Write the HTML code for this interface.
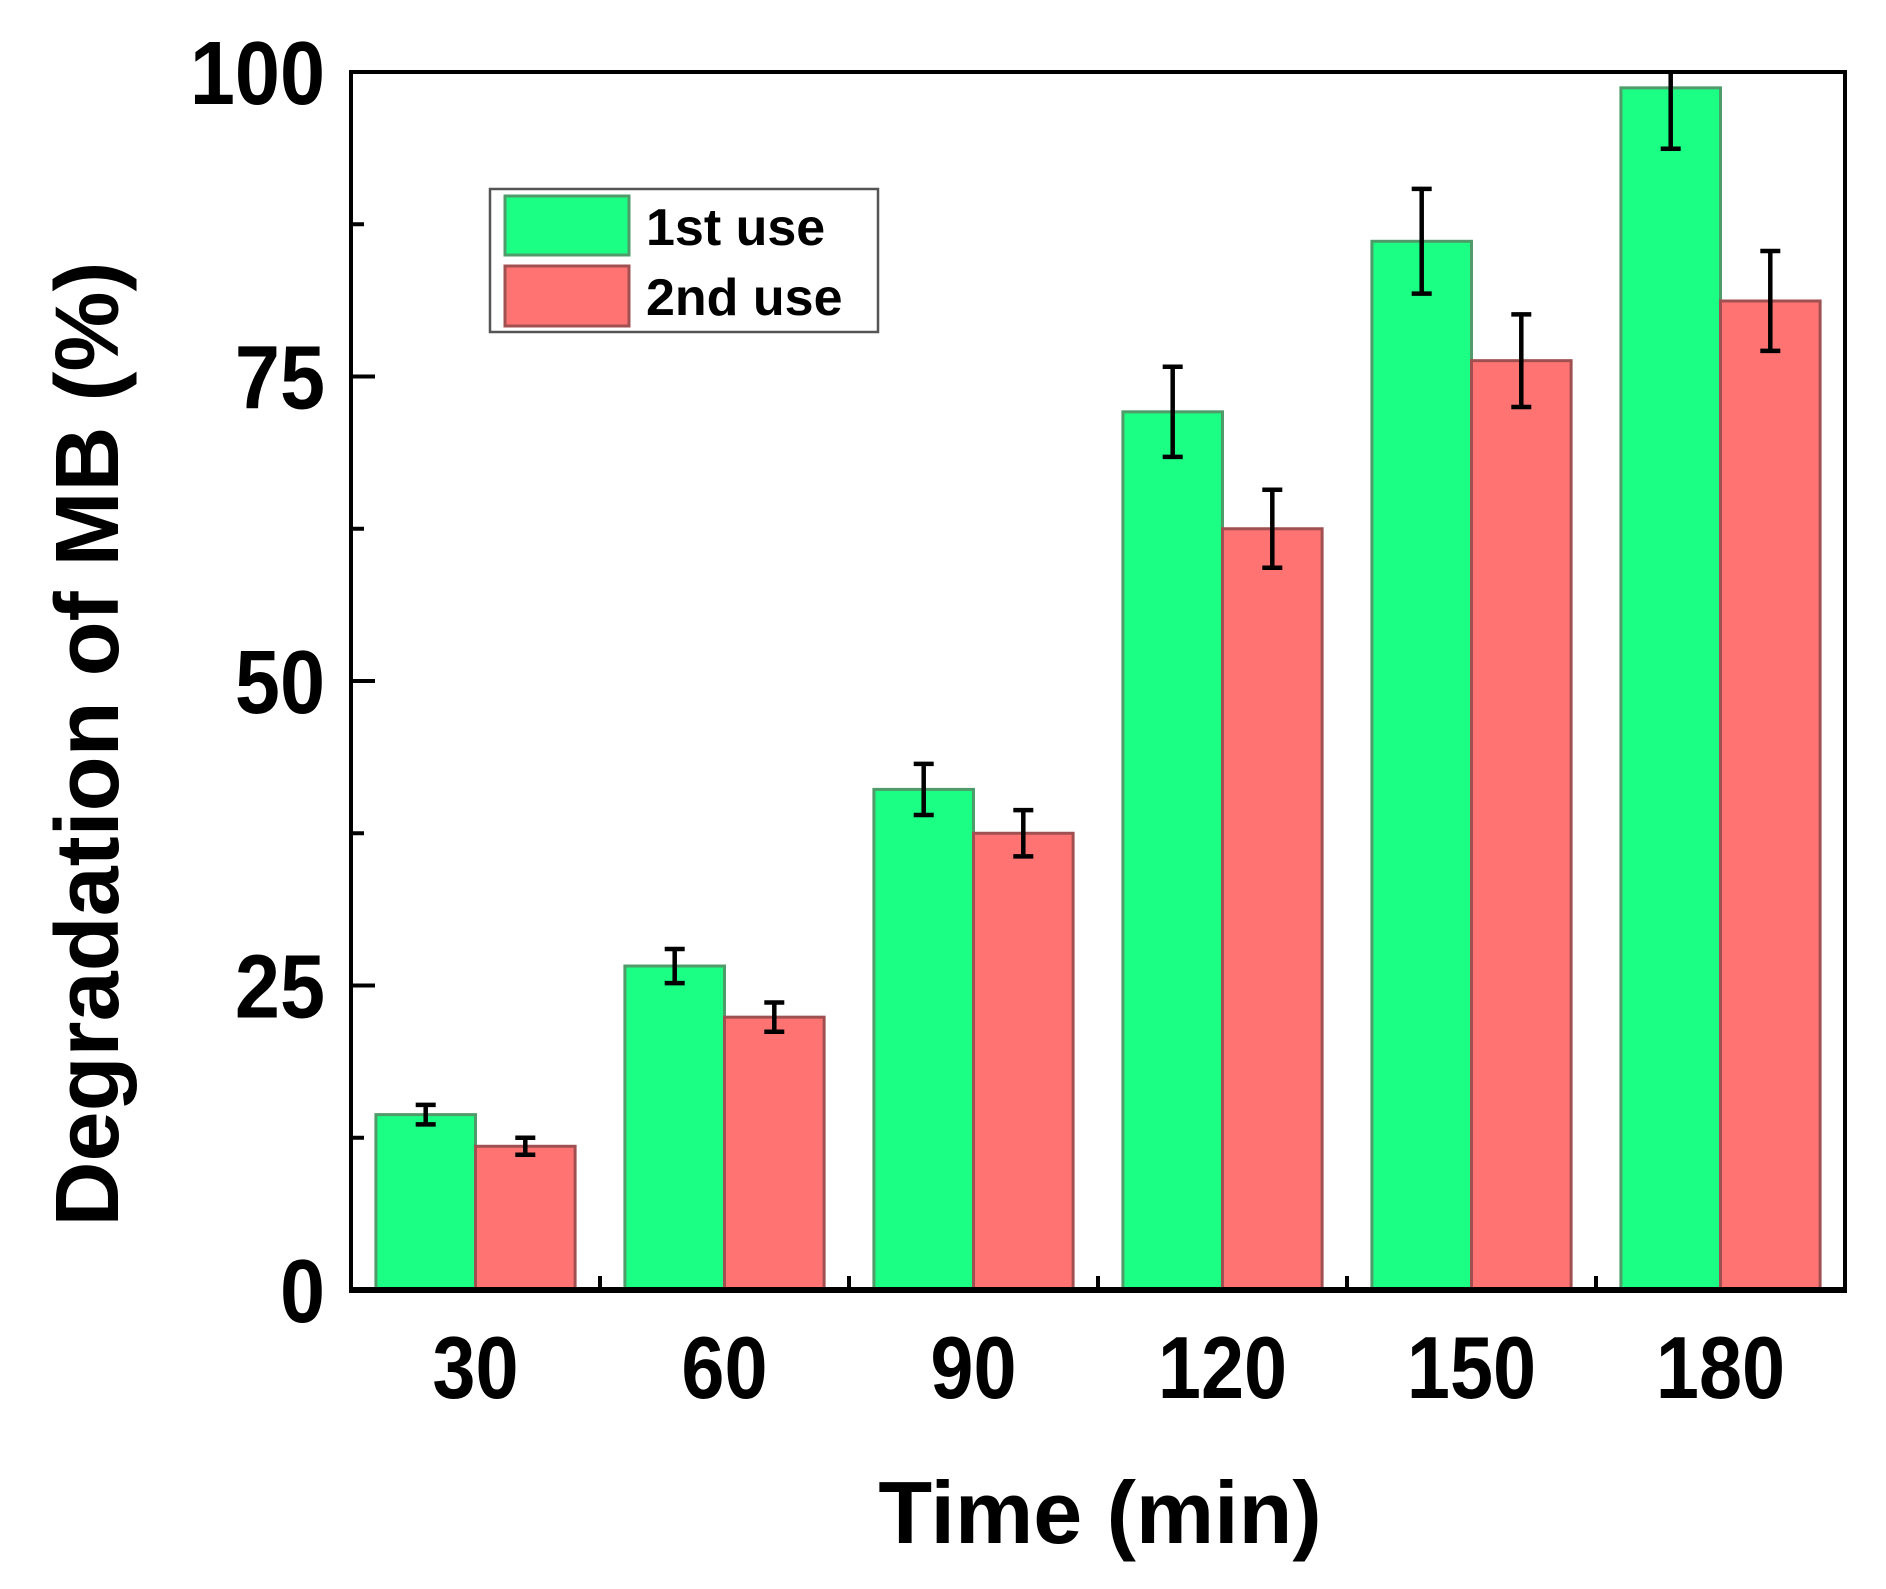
<!DOCTYPE html>
<html><head><meta charset="utf-8"><style>
html,body{margin:0;padding:0;background:#fff}
svg{display:block;font-family:"Liberation Sans",Arial,sans-serif;font-weight:bold}
</style></head><body>
<svg id="chart" width="1886" height="1589" viewBox="0 0 1886 1589"></svg>
<script>
const categories = ["30","60","90","120","150","180"];
const catValues = [30,60,90,120,150,180];
const firstUse = [14.4,26.6,41.1,72.1,86.1,98.7];
const firstErr = [0.8,1.4,2.1,3.7,4.3,5.0];
const secondUse = [11.8,22.4,37.5,62.5,76.3,81.2];
const secondErr = [0.7,1.2,1.9,3.2,3.8,4.1];
const yTicks = [0,25,50,75,100];
const yTickLabels = ["0","25","50","75","100"];

const L=351,R=1845,T=72,B=1290;
const xMin=15,xMax=195,yMin=0,yMax=100;
const sx=v=>L+(v-xMin)/(xMax-xMin)*(R-L);
const sy=v=>B-(v-yMin)/(yMax-yMin)*(B-T);
const NS="http://www.w3.org/2000/svg";
const svg=document.getElementById('chart');
function mk(tag,attrs,parent){const e=document.createElementNS(NS,tag);for(const k in attrs)e.setAttribute(k,attrs[k]);(parent||svg).appendChild(e);return e;}

const defs=mk('defs',{});
const cp=mk('clipPath',{id:'plotclip'},defs);
mk('rect',{x:L-20,y:T,width:R-L+40,height:B-T+20},cp);
const plot=mk('g',{'clip-path':'url(#plotclip)'});



const bw=12;
function bars(vals,errs,off,fill,stroke,name){
  vals.forEach((v,i)=>{
    const x0=sx(catValues[i]+off), x1=sx(catValues[i]+off+bw);
    const r=mk('rect',{x:x0,y:sy(v),width:x1-x0,height:B-sy(v),fill:fill,stroke:stroke,'stroke-width':3},plot);
    
    
    const cx=(x0+x1)/2, hi=sy(v+errs[i]), lo=sy(v-errs[i]);
    const g=mk('g',{stroke:'#000','stroke-width':4.5},plot);
    
    
    mk('line',{x1:cx,x2:cx,y1:hi,y2:lo},g);
    mk('line',{x1:cx-10,x2:cx+10,y1:hi,y2:hi},g);
    mk('line',{x1:cx-10,x2:cx+10,y1:lo,y2:lo},g);
  });
}
bars(firstUse,firstErr,-12,'#1cff85','#4f9c6a','first-use');
bars(secondUse,secondErr,0,'#ff7373','#a05050','second-use');

const fr=mk('rect',{x:L,y:T,width:R-L,height:B-T,fill:'none',stroke:'#000','stroke-width':4});


mk('line',{x1:L-2,x2:R+2,y1:B,y2:B,stroke:'#000','stroke-width':6});

yTicks.forEach((t,i)=>{
  mk('line',{x1:L,x2:L+24,y1:sy(t),y2:sy(t),stroke:'#000','stroke-width':4});
  if(i<yTicks.length-1){const m=(t+yTicks[i+1])/2;mk('line',{x1:L,x2:L+13,y1:sy(m),y2:sy(m),stroke:'#000','stroke-width':4});}
  const tx=mk('text',{x:0,y:0,'text-anchor':'end','font-size':90,fill:'#000',transform:`translate(${L-26},${sy(t)+32}) scale(0.9,1)`});
  tx.textContent=yTickLabels[i];
  
  
});
catValues.forEach((c,i)=>{
  if(i>0){mk('line',{x1:sx(c-15),x2:sx(c-15),y1:B,y2:B-14,stroke:'#000','stroke-width':4});}
  const tx=mk('text',{x:0,y:0,'text-anchor':'middle','font-size':88,fill:'#000',transform:`translate(${sx(c)},1398) scale(0.88,1)`});
  tx.textContent=categories[i];
  
  
});

const xt=mk('text',{x:1100,y:1543,'text-anchor':'middle','font-size':88,fill:'#000'});
xt.textContent='Time (min)';


const yt=mk('text',{x:0,y:0,'text-anchor':'middle','font-size':90,fill:'#000',transform:'translate(118,744) rotate(-90)'});
yt.textContent='Degradation of MB (%)';



const lg=mk('g',{});


mk('rect',{x:490,y:189,width:388,height:143,fill:'#fff',stroke:'#555','stroke-width':2.5},lg);
const s1=mk('rect',{x:505,y:196,width:124,height:59,fill:'#1cff85',stroke:'#4f9c6a','stroke-width':3},lg);


const s2=mk('rect',{x:505,y:266,width:124,height:60,fill:'#ff7373',stroke:'#a05050','stroke-width':3},lg);


const t1=mk('text',{x:646,y:245,'font-size':52,fill:'#000'},lg);t1.textContent='1st use';


const t2=mk('text',{x:646,y:315,'font-size':52,fill:'#000'},lg);t2.textContent='2nd use';


</script>
</body></html>
